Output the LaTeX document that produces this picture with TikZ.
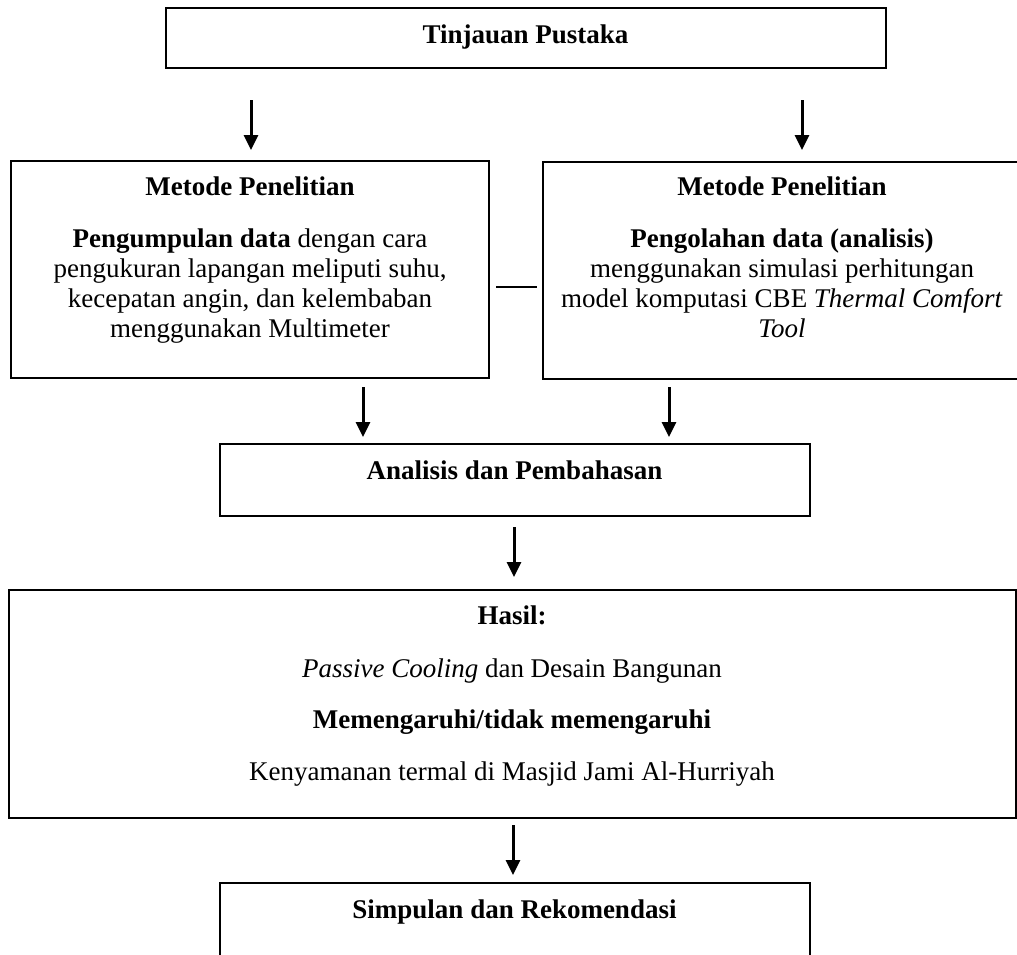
\documentclass[tikz,border=0pt]{standalone}
\usepackage{fontspec}
\setmainfont{Liberation Serif}
\usetikzlibrary{arrows.meta}
\begin{document}
\begin{tikzpicture}[x=1pt,y=-1pt,
  box/.style={draw, line width=2pt, inner sep=0pt, outer sep=0pt},
  txt/.style={anchor=base, inner sep=0pt, font=\fontsize{27}{30}\selectfont},
  arr/.style={-{Triangle[length=15pt,width=14pt]}, line width=3pt},
  link/.style={line width=2pt}]
\clip (0,0) rectangle (1017,954);
\fill[white] (0,0) rectangle (1017,954);
% boxes
\node[box, minimum width=720pt, minimum height=60pt] (tp) at (525.5,38) {};
\node[box, minimum width=478pt, minimum height=217pt] (mpl) at (250,269) {};
\node[box, minimum width=487pt, minimum height=217pt] (mpr) at (786.5,270) {};
\node[box, minimum width=590pt, minimum height=72pt] (ap) at (514.5,479.5) {};
\node[box, minimum width=1007pt, minimum height=228pt] (hs) at (512.5,704) {};
\node[box, minimum width=590pt, minimum height=117pt] (sr) at (514.5,941) {};
% texts
\node[txt] (t1) at (525.5,43.5) {\textbf{Tinjauan Pustaka}};
\node[txt] (l1) at (250,195) {\textbf{Metode Penelitian}};
\node[txt] (l2) at (250,247) {\textbf{Pengumpulan data} dengan cara};
\node[txt] (l3) at (250,277) {pengukuran lapangan meliputi suhu,};
\node[txt] (l4) at (250,307) {kecepatan angin, dan kelembaban};
\node[txt] (l5) at (250,337) {menggunakan Multimeter};
\node[txt] (r1) at (782,195) {\textbf{Metode Penelitian}};
\node[txt] (r2) at (782,247) {\textbf{Pengolahan data (analisis)}};
\node[txt] (r3) at (782,277) {menggunakan simulasi perhitungan};
\node[txt] (r4) at (782,307) {model komputasi CBE \textit{Thermal Comfort}};
\node[txt] (r5) at (782,337) {\textit{Tool}};
\node[txt] (a1) at (514.5,479) {\textbf{Analisis dan Pembahasan}};
\node[txt] (h1) at (512,624) {\textbf{Hasil:}};
\node[txt] (h2) at (512,677) {\textit{Passive Cooling} dan Desain Bangunan};
\node[txt] (h3) at (512,728.5) {\textbf{Memengaruhi/tidak memengaruhi}};
\node[txt] (h4) at (512,780) {Kenyamanan termal di Masjid Jami Al-Hurriyah};
\node[txt] (s1) at (514.5,918) {\textbf{Simpulan dan Rekomendasi}};
% connector ends
\coordinate (c1a) at (251,100);  \coordinate (c1b) at (251,150);
\coordinate (c2a) at (802,100);  \coordinate (c2b) at (802,150);
\coordinate (c3a) at (363,387); \coordinate (c3b) at (363,437);
\coordinate (c4a) at (669,387); \coordinate (c4b) at (669,437);
\coordinate (c5a) at (514,527); \coordinate (c5b) at (514,577);
\coordinate (c6a) at (513,825); \coordinate (c6b) at (513,875);
\coordinate (k1) at (496,287); \coordinate (k2) at (537,287);
\draw[arr] (c1a) -- (c1b);
\draw[arr] (c2a) -- (c2b);
\draw[arr] (c3a) -- (c3b);
\draw[arr] (c4a) -- (c4b);
\draw[arr] (c5a) -- (c5b);
\draw[arr] (c6a) -- (c6b);
\draw[link] (k1) -- (k2);
\end{tikzpicture}
\end{document}
